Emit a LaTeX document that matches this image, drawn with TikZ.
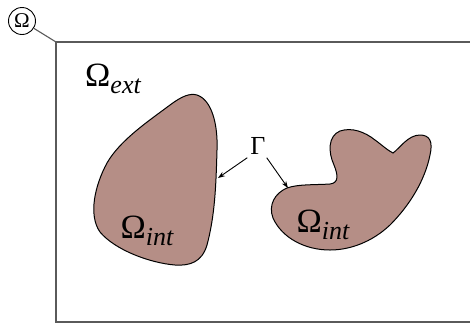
\documentclass[tikz,border=0pt]{standalone}
\usepackage{fontspec}
\setmainfont{Liberation Serif}
\usetikzlibrary{arrows.meta}
\definecolor{regionfill}{HTML}{B58E86}
\definecolor{framegray}{HTML}{5A5A5A}
\tikzset{
  region/.style={fill=regionfill, draw=black, line width=1pt},
  frame/.style={draw=framegray, line width=1.4pt},
  pointer/.style={draw=black, line width=0.9pt, -{Stealth[length=7pt,width=5pt]}},
  biglabel/.style={font=\fontsize{34}{34}\selectfont, inner sep=0pt},
}
\newcommand{\domlabel}[1]{Ω\raisebox{-7pt}{\fontsize{26}{26}\selectfont\itshape #1}}
\begin{document}
\begin{tikzpicture}[x=1pt, y=-1pt]
\useasboundingbox (0,0) rectangle (470,325);

% outer domain: open to the right
\draw[frame] (480,42) -- (56,42) -- (56,322) -- (480,322);
\coordinate (corner) at (56,42);

% domain tag in the corner
\node[draw=black, line width=0.9pt, circle, minimum size=27pt, inner sep=0pt,
      font=\fontsize{21}{21}\selectfont] (tag) at (22,21) {Ω};
\draw[frame, line width=1.1pt] (tag) -- (corner);

% interior region, left
\path[region] (197,95)
  .. controls (212,100) and (218,125) .. (217,150)
  .. controls (216,185) and (215,215) .. (207,245)
  .. controls (202,262) and (190,266) .. (175,265)
  .. controls (150,263) and (115,250) .. (100,232)
  .. controls (88,215) and (95,185) .. (107,163)
  .. controls (120,140) and (150,120) .. (170,105)
  .. controls (182,96) and (190,93) .. (197,95) -- cycle;

% interior region, right
\path[region] (287,188)
  .. controls (275,193) and (268,205) .. (273,218)
  .. controls (282,238) and (305,250) .. (330,250)
  .. controls (350,250) and (372,242) .. (390,225)
  .. controls (410,205) and (425,180) .. (430,155)
  .. controls (433,142) and (430,135) .. (420,135)
  .. controls (408,135) and (400,148) .. (393,153)
  .. controls (387,150) and (382,145) .. (375,140)
  .. controls (365,132) and (352,127) .. (340,131)
  .. controls (328,136) and (328,152) .. (334,165)
  .. controls (338,175) and (339,183) .. (330,184)
  .. controls (315,185) and (298,184) .. (287,188) -- cycle;

% labels
\node[biglabel] (ext) at (113,79) {\domlabel{ext}};
\node[biglabel] (intl) at (147,231) {\domlabel{int}};
\node[biglabel] (intr) at (323,225) {\domlabel{int}};
\node[font=\fontsize{26}{26}\selectfont, inner sep=1pt] (gamma) at (258,146) {Γ};

% boundary pointers
\coordinate (hitl) at (218,178);
\coordinate (hitr) at (288,188);
\draw[pointer] (gamma.south west) ++(-2,2) -- (hitl);
\draw[pointer] (gamma.south east) ++(0,2) -- (hitr);
\end{tikzpicture}
\end{document}
